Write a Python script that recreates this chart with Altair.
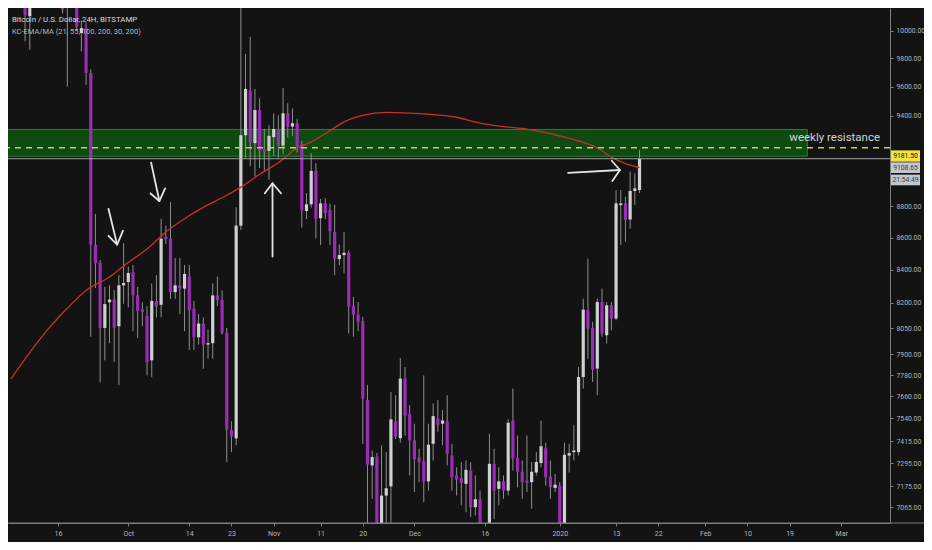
import altair as alt
import pandas as pd

# ---------------- data ----------------
FIRST_DAY = "2019-09-09"   # daily candles, consecutive days from here
opens = [10320, 10105, 10190, 10420, 10360, 10300, 10330, 10260, 10230, 10180,
         10250, 10200, 9982, 10018, 9695, 8556, 8445, 8052, 8204, 8220,
         8062, 8306, 8326, 8385, 8245, 8163, 8123, 7864, 8212, 8189,
         8605, 8593, 8265, 8306, 8286, 8360, 8167, 7997, 8077, 7955,
         7963, 8245, 8217, 8023, 7476, 7429, 8675, 9266, 9573, 9213,
         9437, 9173, 9161, 9253, 9308, 9196, 9415, 9325, 9347, 9205,
         8768, 8811, 9028, 8722, 8817, 8774, 8636, 8466, 8491, 8505,
         8181, 8131, 8092, 7641, 7284, 7332, 6900, 7126, 7174, 7522,
         7430, 7760, 7564, 7418, 7326, 7306, 7200, 7400, 7539, 7509,
         7522, 7337, 7231, 7217, 7187, 7257, 7066, 7107, 6880, 6610,
         7293, 7161, 7200, 7152, 7527, 7324, 7251, 7204, 7196, 7247,
         7297, 7376, 7225, 7166, 7178, 6950, 7337, 7355, 7355, 7769,
         8157, 8052, 7817, 8205, 8009, 8186, 8107, 8806, 8817, 8714,
         8897, 8903]
highs = [10390, 10300, 10460, 10450, 10390, 10370, 10390, 10300, 10280, 10290,
         10320, 10230, 10075, 10060, 9720, 8750, 8460, 8296, 8306, 8276,
         8368, 8565, 8420, 8430, 8296, 8204, 8180, 8317, 8368, 8718,
         8675, 8826, 8472, 8472, 8430, 8430, 8212, 8133, 8113, 8042,
         8317, 8360, 8275, 8052, 7522, 8793, 10350, 9832, 9954, 9584,
         9518, 9309, 9333, 9414, 9402, 9591, 9484, 9449, 9378, 9230,
         8883, 9145, 9079, 8845, 8850, 8815, 8808, 8557, 8636, 8520,
         8236, 8205, 8117, 7723, 7364, 7350, 7391, 7355, 7685, 7667,
         7877, 7826, 7611, 7509, 7373, 7778, 7509, 7621, 7640, 7583,
         7667, 7400, 7275, 7302, 7311, 7302, 7231, 7152, 6960, 7454,
         7373, 7275, 7231, 7533, 7704, 7444, 7311, 7444, 7302, 7355,
         7527, 7407, 7311, 7239, 7196, 7407, 7400, 7500, 7826, 8226,
         8470, 8088, 8226, 8286, 8205, 8205, 8903, 8903, 8860, 9023,
         9012, 9167]
lows = [9922, 9862, 10175, 10210, 10190, 10220, 10200, 10180, 10125, 9600,
        10175, 10000, 9849, 9612, 8000, 8290, 7739, 7864, 7963, 7855,
        7723, 8195, 8174, 8033, 7993, 8062, 7778, 7768, 8113, 8113,
        8560, 8224, 8224, 8133, 8033, 7924, 7924, 7955, 7816, 7874,
        7874, 8180, 8013, 7302, 7356, 7392, 8647, 9115, 9059, 8991,
        9047, 9025, 8970, 9127, 9115, 9137, 9250, 9260, 9150, 8662,
        8717, 8790, 8595, 8553, 8717, 8553, 8368, 8429, 8378, 8019,
        8000, 8034, 7400, 6850, 7109, 6800, 6550, 6900, 6870, 7426,
        7407, 7444, 7231, 7144, 7196, 7092, 7152, 7311, 7466, 7392,
        7284, 7152, 7126, 7075, 7040, 7015, 7023, 6850, 6560, 6430,
        7006, 7075, 7109, 7126, 7257, 7169, 7109, 7144, 7058, 7231,
        7275, 7178, 7109, 7144, 6900, 6880, 7247, 7311, 7337, 7704,
        7873, 7741, 7667, 8000, 7961, 8038, 8097, 8553, 8574, 8656,
        8806, 8883]
closes = [10112, 10190, 10420, 10360, 10300, 10330, 10260, 10230, 10154, 10250,
          10200, 10031, 10018, 9695, 8556, 8440, 8052, 8193, 8220, 8052,
          8306, 8320, 8381, 8245, 8153, 8147, 7855, 8212, 8180, 8593,
          8590, 8265, 8306, 8286, 8375, 8157, 7997, 8078, 7955, 7963,
          8245, 8217, 8023, 7476, 7439, 8675, 9266, 9584, 9218, 9437,
          9161, 9152, 9262, 9308, 9196, 9415, 9322, 9347, 9193, 8772,
          8811, 9028, 8717, 8817, 8755, 8640, 8470, 8491, 8505, 8177,
          8131, 8088, 7647, 7288, 7329, 6900, 7126, 7164, 7533, 7439,
          7760, 7554, 7418, 7316, 7302, 7200, 7395, 7551, 7503, 7527,
          7347, 7222, 7210, 7192, 7261, 7066, 7107, 6880, 6610, 7293,
          7152, 7200, 7152, 7514, 7320, 7251, 7196, 7192, 7251, 7302,
          7387, 7222, 7170, 7183, 6950, 7341, 7350, 7364, 7769, 8160,
          8048, 7811, 8205, 8019, 8186, 8107, 8817, 8817, 8711, 8897,
          8914, 9108.65]

# 200-period moving average (red line), read at these dates
ma_dates = ["2019-09-06", "2019-09-10", "2019-09-14", "2019-09-18", "2019-09-22",
            "2019-09-27", "2019-10-01", "2019-10-05", "2019-10-09", "2019-10-13",
            "2019-10-17", "2019-10-22", "2019-10-25", "2019-10-29", "2019-11-02",
            "2019-11-06", "2019-11-09", "2019-11-12", "2019-11-16", "2019-11-20",
            "2019-11-25", "2019-11-30", "2019-12-05", "2019-12-10", "2019-12-15",
            "2019-12-20", "2019-12-25", "2019-12-29", "2020-01-02", "2020-01-06",
            "2020-01-09", "2020-01-12", "2020-01-15", "2020-01-18"]
ma_values = [7759, 7910, 8048, 8168, 8275, 8356, 8446, 8528, 8635, 8719,
             8791, 8869, 8922, 9006, 9082, 9179, 9221, 9276, 9357, 9401,
             9421, 9416, 9406, 9388, 9348, 9324, 9307, 9283, 9253, 9217,
             9180, 9119, 9076, 9050]

# time axis tick marks and their labels
tick_dates = ["2019-09-16", "2019-10-01", "2019-10-14", "2019-10-23", "2019-11-01",
              "2019-11-11", "2019-11-20", "2019-12-01", "2019-12-16", "2020-01-01",
              "2020-01-13", "2020-01-22", "2020-02-01", "2020-02-10", "2020-02-19",
              "2020-03-01"]
tick_labels = ["16", "Oct", "14", "23", "Nov", "11", "20", "Dec", "16", "2020",
               "13", "22", "Feb", "10", "19", "Mar"]

# price axis labels
price_ticks = [7065, 7175, 7295, 7415, 7540, 7660, 7780, 7900, 8050, 8200,
               8400, 8600, 8800, 9400, 9600, 9800, 10000]

# drawings
zone_low, zone_high = 9125, 9305
zone_start, zone_end = "2019-09-01T00:00:00Z", "2020-02-22T18:30:00Z"
resistance_level = 9181.50
last_price = 9108.65
timer_text = "21:54:49"
zone_label = "weekly resistance"
zone_label_at = ("2020-03-09T07:00:00Z", 9250)

# hand-drawn arrows: (arrow, part, date, price)
arrow_pts = [
    ("a1", "shaft", "2019-09-26T18:30:00Z", 8782), ("a1", "shaft", "2019-09-28T15:00:00Z", 8556),
    ("a1", "head", "2019-09-26T18:30:00Z", 8611), ("a1", "head", "2019-09-28T15:00:00Z", 8556),
    ("a1", "head", "2019-09-29T21:00:00Z", 8643),
    ("a2", "shaft", "2019-10-05T21:00:00Z", 9082), ("a2", "shaft", "2019-10-07T15:00:00Z", 8832),
    ("a2", "head", "2019-10-05T18:00:00Z", 8881), ("a2", "head", "2019-10-07T15:00:00Z", 8832),
    ("a2", "head", "2019-10-08T20:30:00Z", 8914),
    ("a3", "shaft", "2019-10-31T18:00:00Z", 8482), ("a3", "shaft", "2019-10-31T18:00:00Z", 8947),
    ("a3", "head", "2019-10-30T02:30:00Z", 8882), ("a3", "head", "2019-10-31T18:00:00Z", 8947),
    ("a3", "head", "2019-11-02T13:30:00Z", 8882),
    ("a4", "shaft", "2020-01-02T18:45:00Z", 9015), ("a4", "shaft", "2020-01-13T19:40:00Z", 9034),
    ("a4", "head", "2020-01-12T02:00:00Z", 9095), ("a4", "head", "2020-01-13T19:40:00Z", 9034),
    ("a4", "head", "2020-01-12T05:00:00Z", 8962),
]

title_line1 = "Bitcoin / U.S. Dollar, 24H, BITSTAMP"
title_line2 = "KC-EMA/MA (21, 55, 100, 200, 30, 200)"

# ---------------- styling ----------------
W, H = 882, 515
AX_W, AX_H = 34, 19
BG = "#131313"
UP = "#cfd0d4"
DOWN = "#9c2cb8"
WICK = "#8e8e8e"
AXIS_COL = "#7d7d7d"
LABEL_COL = "#b2b5be"
FONT = "Roboto"

# ---------------- frames ----------------
dates = pd.date_range(FIRST_DAY, periods=len(opens), freq="D")
candles = pd.DataFrame({
    "date": dates.strftime("%Y-%m-%dT00:00:00Z"),
    "open": opens, "high": highs, "low": lows, "close": closes,
})
ma = pd.DataFrame({"date": [d + "T00:00:00Z" for d in ma_dates], "ma": ma_values})
zone = pd.DataFrame({"start": [zone_start], "end": [zone_end], "lo": [zone_low], "hi": [zone_high]})
arrows = pd.DataFrame(arrow_pts, columns=["arrow", "part", "date", "price"])
arrows["seg"] = arrows["arrow"] + "_" + arrows["part"]
arrows["order"] = range(len(arrows))


def dt(s, h=0, m=0):
    y, mo, d = (int(v) for v in s.split("-"))
    return alt.DateTime(year=y, month=mo, date=d, hours=h, minutes=m, utc=True)


xscale = alt.Scale(type="utc", domain=[dt("2019-09-06", 10, 5), dt("2020-03-10", 8, 10)], nice=False)
yscale = alt.Scale(type="log", domain=[6985, 10166], nice=False)

label_expr = "''"
for d, lab in reversed(list(zip(tick_dates, tick_labels))):
    label_expr = f"utcFormat(datum.value, '%Y-%m-%d') == '{d}' ? '{lab}' : ({label_expr})"

xaxis = alt.Axis(values=[dt(d) for d in tick_dates], labelExpr=label_expr, title=None,
                 grid=False, tickSize=3, tickColor=AXIS_COL, domainColor=AXIS_COL,
                 labelColor=LABEL_COL, labelFont=FONT, labelFontSize=7, labelPadding=3,
                 labelFlush=False, labelOverlap=False)
yaxis = alt.Axis(orient="right", values=price_ticks, format=".2f", title=None, grid=False,
                 tickSize=3, tickColor=AXIS_COL, domainColor=AXIS_COL, labelColor=LABEL_COL,
                 labelFont=FONT, labelFontSize=6.8, labelPadding=3, labelOverlap=False)


def X(field):
    return alt.X(field, type="temporal", scale=xscale, axis=xaxis)


def Y(field):
    return alt.Y(field, type="quantitative", scale=yscale, axis=yaxis)


zone_layer = alt.Chart(zone).mark_rect(fill="#0f4a10", stroke="#2f7f2f", strokeWidth=1, clip=True).encode(
    x=X("start"), x2="end", y=Y("lo"), y2="hi")

wicks = alt.Chart(candles).mark_rule(color=WICK, strokeWidth=1, clip=True).encode(
    x=X("date"), y=Y("low"), y2="high")

bodies = alt.Chart(candles).mark_bar(size=3.2, clip=True).encode(
    x=X("date"), y=Y("open"), y2="close",
    color=alt.condition("datum.close >= datum.open", alt.value(UP), alt.value(DOWN)))

ma_line = alt.Chart(ma).mark_line(color="#c9302c", strokeWidth=1.3, clip=True, interpolate="monotone").encode(
    x=X("date"), y=Y("ma"))

levels = pd.DataFrame({"p": [resistance_level]})
dash_line = alt.Chart(levels).mark_rule(color="#bcd35c", strokeWidth=1.4, strokeDash=[6, 5]).encode(y=Y("p"))

last = pd.DataFrame({"p": [last_price]})
last_line = alt.Chart(last).mark_rule(color="#a3a3a3", strokeWidth=1).encode(y=Y("p"))

arrow_layer = alt.Chart(arrows).mark_line(color="#e4e4e4", strokeWidth=1.8, strokeCap="round",
                                          strokeJoin="round").encode(
    x=X("date"), y=Y("price"), detail="seg:N", order="order:Q")

zl = pd.DataFrame({"date": [zone_label_at[0]], "p": [zone_label_at[1]], "t": [zone_label]})
zone_text = alt.Chart(zl).mark_text(align="right", baseline="middle", font=FONT, fontSize=11.5,
                                    color="#d2d2d2").encode(x=X("date"), y=Y("p"), text="t:N")

t1 = pd.DataFrame({"t": [title_line1]})
t2 = pd.DataFrame({"t": [title_line2]})
title1 = alt.Chart(t1).mark_text(align="left", baseline="middle", font=FONT, fontSize=7.8,
                                 color="#dcdcdc").encode(x=alt.value(4), y=alt.value(12), text="t:N")
title2 = alt.Chart(t2).mark_text(align="left", baseline="middle", font=FONT, fontSize=7.5,
                                 color="#b5b5b5").encode(x=alt.value(4), y=alt.value(23.5), text="t:N")

# price tags on the right axis
res_box = alt.Chart(levels).mark_rect(fill="#f5e33b", yOffset=2.6, y2Offset=13.9).encode(
    x=alt.value(W + 1), x2=alt.value(W + 30), y=Y("p"), y2="p")
res_txt = alt.Chart(levels).mark_text(font=FONT, fontSize=6.8, color="#111111", yOffset=8.3).encode(
    x=alt.value(W + 15.5), y=Y("p"), text=alt.Text("p:Q", format=".2f"))
last_box = alt.Chart(last).mark_rect(fill="#c3c6cc", yOffset=3.6, y2Offset=14.3).encode(
    x=alt.value(W + 1), x2=alt.value(W + 30), y=Y("p"), y2="p")
last_txt = alt.Chart(last).mark_text(font=FONT, fontSize=6.8, color="#3c3c3c", yOffset=9).encode(
    x=alt.value(W + 15.5), y=Y("p"), text=alt.Text("p:Q", format=".2f"))
timer = pd.DataFrame({"p": [last_price], "t": [timer_text]})
timer_box = alt.Chart(timer).mark_rect(fill="#c3c6cc", yOffset=15.9, y2Offset=26.6).encode(
    x=alt.value(W + 1), x2=alt.value(W + 30), y=Y("p"), y2="p")
timer_txt = alt.Chart(timer).mark_text(font=FONT, fontSize=6.8, color="#3c3c3c", yOffset=21.3).encode(
    x=alt.value(W + 15.5), y=Y("p"), text="t:N")

frame = pd.DataFrame({"k": [0]})
bottom_line = alt.Chart(frame).mark_rule(color=AXIS_COL, strokeWidth=1).encode(
    x=alt.value(0), x2=alt.value(W + AX_W), y=alt.value(H))

chart = alt.layer(
    zone_layer, wicks, bodies, ma_line, dash_line, last_line, arrow_layer, zone_text,
    title1, title2, bottom_line, res_box, res_txt, last_box, last_txt, timer_box, timer_txt,
).properties(
    width=W, height=H, background=BG,
    padding={"left": 0, "top": 0, "right": AX_W, "bottom": AX_H},
    autosize=alt.AutoSizeParams(type="none"),
).configure_view(stroke=None, fill=BG)

chart.save("out.html", embed_options={"renderer": "svg", "actions": False})
